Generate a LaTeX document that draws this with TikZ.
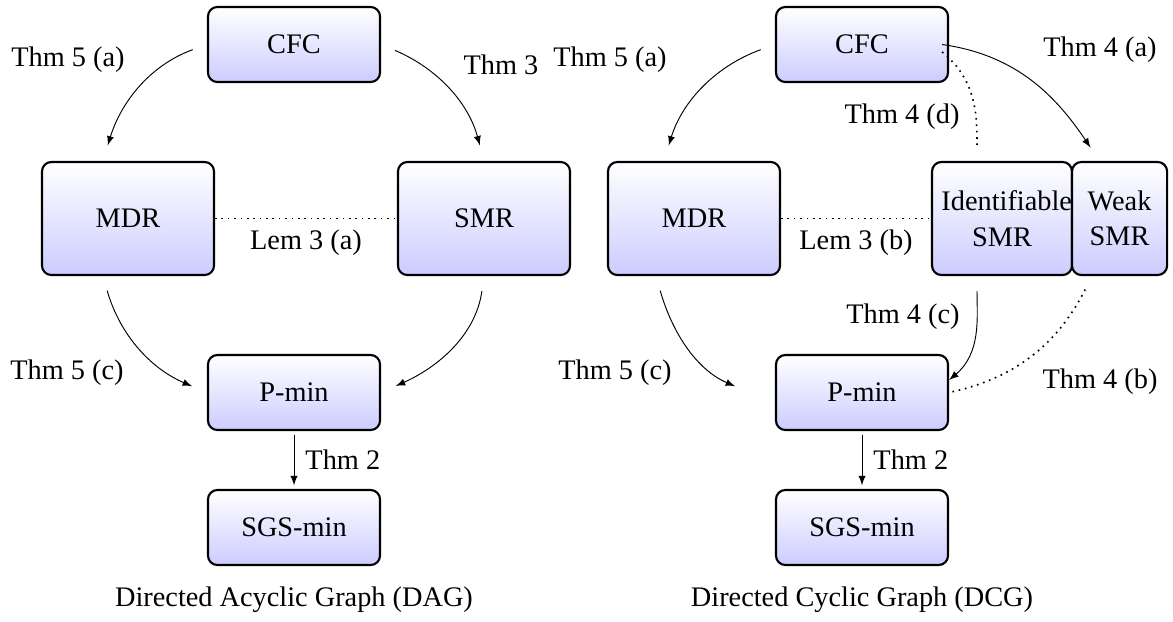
\documentclass[tikz,border=0pt]{standalone}
\usepackage{fontspec}
\setmainfont{Liberation Serif}
\usetikzlibrary{calc,arrows}
\begin{document}
\begin{tikzpicture}[x=0.4237pt,y=0.4237pt,
  box/.style={draw=black, line width=0.9pt, rounded corners=4pt, top color=white, bottom color=blue!20,
    minimum width=72.9pt, minimum height=31.8pt, inner sep=0pt, font=\rmfamily\fontsize{12}{15}\selectfont},
  bigbox/.style={box, minimum height=47.9pt},
  lbl/.style={font=\rmfamily\fontsize{12}{14}\selectfont, inner sep=0pt},
  conn/.style={->, >=latex, shorten <=6.4pt, shorten >=6.8pt},
  dot/.style={dotted, line width=0.7pt},
]
\useasboundingbox (0,0) rectangle (1173,-621);
% left diagram
\node[box] (cfcL) at (294,-44.5) {CFC};
\node[bigbox] (mdrL) at (128,-218.5) {MDR};
\node[bigbox] (smrL) at (484,-218.5) {SMR};
\node[box] (pminL) at (294,-392.5) {P-min};
\node[box] (sgsL) at (294,-527.5) {SGS-min};
\node[lbl] (capL) at (294,-600) {Directed Acyclic Graph (DAG)};
% right diagram
\node[box] (cfcR) at (862,-44.5) {CFC};
\node[bigbox] (mdrR) at (694,-218.5) {MDR};
\node[bigbox, minimum width=59.3pt, inner sep=4pt, text width=51.3pt, align=center] (idR) at (1002,-218.5) {Identifiable\\SMR};
\node[bigbox, minimum width=40.3pt, align=center, anchor=west, xshift=-0.9pt] (wkR) at (idR.east) {Weak\\SMR};
\node[box] (pminR) at (862,-392.5) {P-min};
\node[box] (sgsR) at (862,-527.5) {SGS-min};
\node[lbl] (capR) at (862,-600) {Directed Cyclic Graph (DCG)};
% labels
\node[lbl] (t5aL) at (68,-60) {Thm 5 (a)};
\node[lbl] (t3) at (501,-65) {Thm 3};
\node[lbl] (t5aR) at (610,-60) {Thm 5 (a)};
\node[lbl] (t4a) at (1100,-50) {Thm 4 (a)};
\node[lbl] (t4d) at (902,-117) {Thm 4 (d)};
\node[lbl] (l3a) at (306,-243) {Lem 3 (a)};
\node[lbl] (l3b) at (856,-243) {Lem 3 (b)};
\node[lbl] (t5cL) at (67,-373) {Thm 5 (c)};
\node[lbl] (t5cR) at (615,-373) {Thm 5 (c)};
\node[lbl] (t4c) at (903,-317) {Thm 4 (c)};
\node[lbl] (t4b) at (1100,-382) {Thm 4 (b)};
\node[lbl,anchor=west] (t2L) at (305,-460) {Thm 2};
\node[lbl,anchor=west] (t2R) at (873,-460) {Thm 2};
% left connectors
\draw[conn] (cfcL.west) to[out=200,in=73] ($(mdrL.north)+(-25,0)$);
\draw[conn] (cfcL.east) to[out=-23,in=105] (smrL.north);
\draw[conn] ($(mdrL.south)+(-25,0)$) to[out=-74,in=157] (pminL.west);
\draw[conn] (smrL.south) to[out=-98,in=24] (pminL.east);
\draw[->,>=latex,shorten <=1.5pt,shorten >=1.5pt] (pminL.south) -- (sgsL.north);
\draw[dot] (mdrL.east) -- (smrL.west);
% right connectors
\draw[conn] (cfcR.west) to[out=200,in=73] ($(mdrR.north)+(-30,0)$);
\draw[->,>=latex,shorten >=6.8pt] ($(cfcR.east)+(-7,0)$) to[out=-8,in=124] ($(wkR.north)+(-20,0)$);
\draw[dot, shorten >=6.8pt] ($(cfcR.east)+(-7,-7.5)$) to[out=-39,in=90] ($(idR.north)+(-25,0)$);
\draw[dot] (mdrR.east) -- (idR.west);
\draw[conn] ($(mdrR.south)+(-38,0)$) to[out=-74,in=157] ($(pminR.west)+(-25,0)$);
\draw[->,>=latex,shorten <=6.4pt] ($(idR.south)+(-25,0)$) to[out=-90,in=40] ($(pminR.east)+(0,12.5)$);
\draw[dot, shorten <=6.4pt] ($(wkR.south)+(-27.5,0)$) to[out=243,in=12] (pminR.east);
\draw[->,>=latex,shorten <=1.5pt,shorten >=1.5pt] (pminR.south) -- (sgsR.north);
\end{tikzpicture}
\end{document}
